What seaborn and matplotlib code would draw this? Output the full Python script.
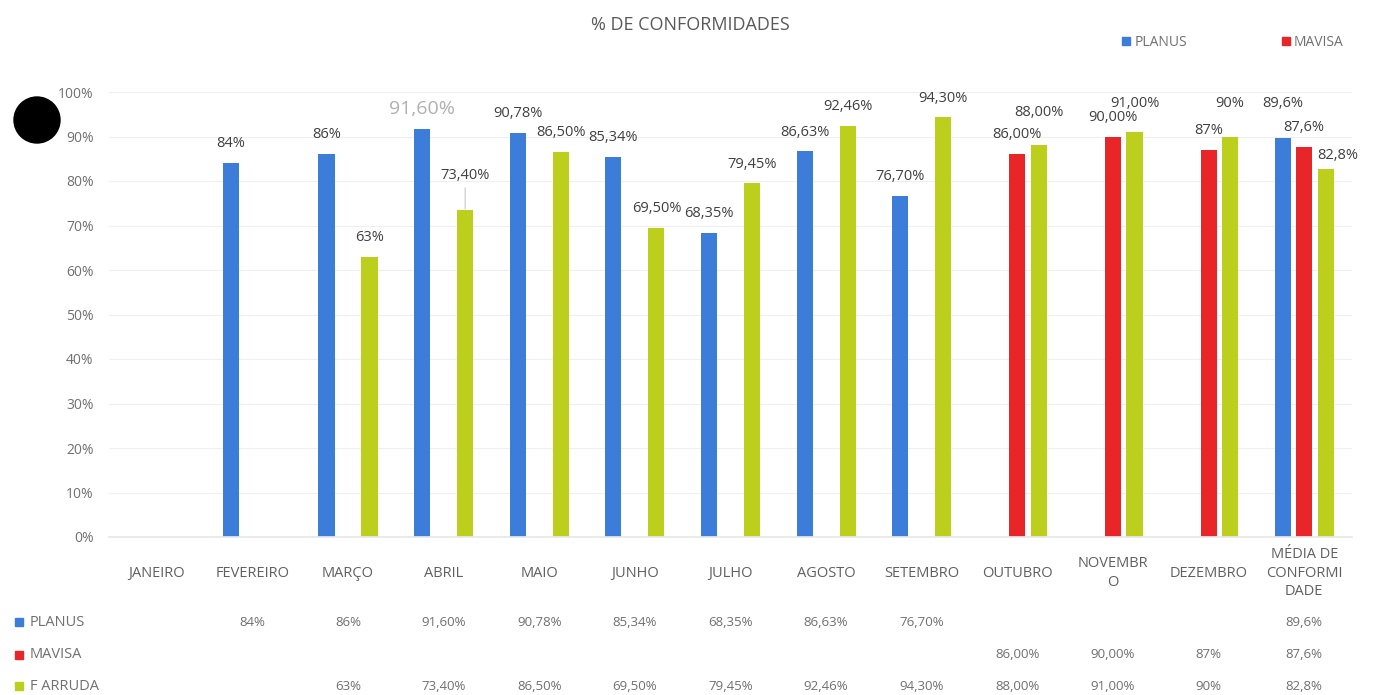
import numpy as np
import pandas as pd
import seaborn as sns
import matplotlib.pyplot as plt
from matplotlib.patches import Ellipse
from matplotlib.lines import Line2D
import matplotlib.transforms as mtransforms

meses = ["JANEIRO", "FEVEREIRO", "MARÇO", "ABRIL", "MAIO", "JUNHO", "JULHO",
         "AGOSTO", "SETEMBRO", "OUTUBRO", "NOVEMBRO", "DEZEMBRO", "MÉDIA DE CONFORMIDADE"]
meses_ticks = ["JANEIRO", "FEVEREIRO", "MARÇO", "ABRIL", "MAIO", "JUNHO", "JULHO",
               "AGOSTO", "SETEMBRO", "OUTUBRO", "NOVEMBR\nO", "DEZEMBRO", "MÉDIA DE\nCONFORMI\nDADE"]
series = ["PLANUS", "MAVISA", "F ARRUDA"]
cores = ["#3b7dd8", "#e8262a", "#bccf1c"]

nan = np.nan
planus = [nan, 84, 86, 91.60, 90.78, 85.34, 68.35, 86.63, 76.70, nan, nan, nan, 89.6]
mavisa = [nan, nan, nan, nan, nan, nan, nan, nan, nan, 86.00, 90.00, 87, 87.6]
farruda = [nan, nan, 63, 73.40, 86.50, 69.50, 79.45, 92.46, 94.30, 88.00, 91.00, 90, 82.8]

planus_lbl = ["", "84%", "86%", "91,60%", "90,78%", "85,34%", "68,35%", "86,63%", "76,70%", "", "", "", "89,6%"]
mavisa_lbl = ["", "", "", "", "", "", "", "", "", "86,00%", "90,00%", "87%", "87,6%"]
farruda_lbl = ["", "", "63%", "73,40%", "86,50%", "69,50%", "79,45%", "92,46%", "94,30%", "88,00%", "91,00%", "90%", "82,8%"]
tabela_planus = ["", "84%", "86%", "91,60%", "90,78%", "85,34%", "68,35%", "86,63%", "76,70%", "", "", "", "89,6%"]
tabela_mavisa = ["", "", "", "", "", "", "", "", "", "86,00%", "90,00%", "87%", "87,6%"]
tabela_farruda = ["", "", "63%", "73,40%", "86,50%", "69,50%", "79,45%", "92,46%", "94,30%", "88,00%", "91,00%", "90%", "82,8%"]

valores = [planus, mavisa, farruda]
rotulos = [planus_lbl, mavisa_lbl, farruda_lbl]
tabelas = [tabela_planus, tabela_mavisa, tabela_farruda]

rows = []
for s, vals, lbls in zip(series, valores, rotulos):
    for m, v, l in zip(meses, vals, lbls):
        if not np.isnan(v):
            rows.append({"mes": m, "valor": v, "serie": s, "rotulo": l})
df = pd.DataFrame(rows)

sns.set_theme(style="white")
plt.rcParams['font.family'] = ['Open Sans', 'DejaVu Sans']

fig = plt.figure(figsize=(13.8, 6.95), dpi=100)
ax = fig.add_axes([109 / 1380, 158 / 695, 1243 / 1380, 445 / 695])

sns.barplot(data=df, x="mes", y="valor", hue="serie", order=meses, hue_order=series,
            palette=cores, width=0.675, gap=0.25, legend=False, ax=ax, saturation=1,
            linewidth=0)

# rotulos moved by hand in the original (points)
ajuste = {"73,40%": (0, 11), "88,00%": (0, 10), "91,00%": (0, 6.5), "90%": (0, 10),
          "89,6%": (0, 11.5), "82,8%": (8.5, -4.5)}

for cont, s in zip(ax.containers, series):
    labs = df.loc[df["serie"] == s, "rotulo"].tolist()
    for p, lab in zip(cont.patches, labs):
        dx, dy = ajuste.get(lab, (0, 0))
        xc = p.get_x() + p.get_width() / 2
        kw = dict(fontsize=10.5, color="#404040")
        if lab == "91,60%":
            kw = dict(fontsize=14, color="#b0b0b0")
        arrow = None
        if lab == "73,40%":
            arrow = dict(arrowstyle="-", color="#c8c8c8", lw=0.8, shrinkA=1, shrinkB=1)
        ax.annotate(lab, (xc, p.get_height()), xytext=(dx, 8.5 + dy), textcoords="offset points",
                    ha="center", va="bottom", arrowprops=arrow, **kw)

ax.set_ylim(0, 100)
ax.set_yticks(range(0, 101, 10))
ax.set_yticklabels([f"{v}%" for v in range(0, 101, 10)])
ax.set_xticks(range(len(meses)))
ax.set_xticklabels(meses_ticks)
ax.set_xlabel("")
ax.set_ylabel("")
ax.yaxis.grid(True, color="#efefef", linewidth=0.8)
ax.set_axisbelow(True)
for sp in ["top", "right", "left"]:
    ax.spines[sp].set_visible(False)
ax.spines["bottom"].set_color("#e8e8e8")
ax.tick_params(axis="y", length=0, pad=11, labelsize=10, labelcolor="#707070")
ax.tick_params(axis="x", length=0, pad=26, labelsize=10.5, labelcolor="#606060")
for t in ax.get_xticklabels():
    t.set_va("center")
    t.set_linespacing(1.35)

# title
fig.text(0.5, 1 - 25 / 695, "% DE CONFORMIDADES", ha="center", va="center",
         fontsize=13, color="#595959")

# legend (top right)
handles = [Line2D([], [], marker="s", linestyle="", color=c, markersize=6) for c in cores[:2]]
fig.legend(handles, series[:2], loc="center left", bbox_to_anchor=(1115 / 1380, 1 - 42 / 695),
           ncol=2, frameon=False, fontsize=10, labelcolor="#707070", handlelength=0.6,
           handletextpad=0.3, columnspacing=6.8, borderpad=0)

# data table below the chart
trans = mtransforms.blended_transform_factory(ax.transData, fig.transFigure)
linhas_y = [1 - 622 / 695, 1 - 655 / 695, 1 - 686 / 695]
for s, cor, tab, yy in zip(series, cores, tabelas, linhas_y):
    fig.text(30 / 1380, yy, s, ha="left", va="center", fontsize=10.5, color="#707070")
    fig.add_artist(Line2D([19 / 1380], [yy], marker="s", color=cor, markersize=6,
                          linestyle="", transform=fig.transFigure))
    for i, t in enumerate(tab):
        if t:
            ax.text(i, yy, t, transform=trans, ha="center", va="center",
                    fontsize=9.5, color="#707070", clip_on=False)

# black dot top-left
fig.add_artist(Ellipse((37 / 1380, 1 - 120 / 695), 46 / 1380, 46 / 695,
                       transform=fig.transFigure, color="black"))

fig.savefig("out.png", dpi=100)
